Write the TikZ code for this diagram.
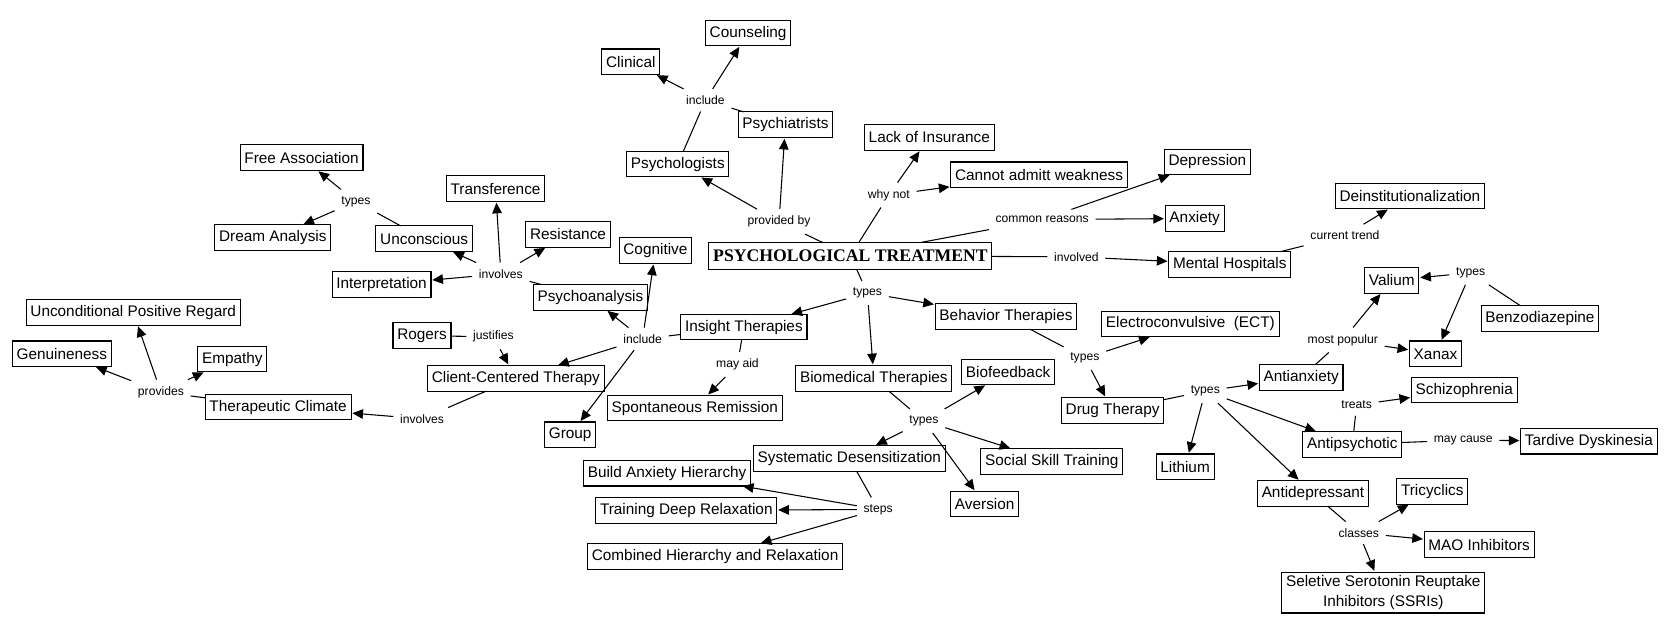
\documentclass[tikz,border=0pt]{standalone}
\usepackage{fontspec}
\setmainfont{Liberation Sans}
\newfontfamily\serifb{Liberation Serif}
\usetikzlibrary{arrows.meta}
\begin{document}
\begin{tikzpicture}[x=0.5pt,y=-0.5pt,
  box/.style={draw, line width=0.5pt, font=\fontsize{7.2}{9.5}\selectfont, inner xsep=2pt, inner ysep=0pt, minimum height=12pt, outer sep=0pt},
  lbl/.style={font=\fontsize{5.7}{6.5}\selectfont, inner sep=3pt},
  ln/.style={line width=0.5pt},
  ar/.style={line width=0.5pt, -{Triangle[length=5pt,width=4.5pt]}, shorten >=0.6pt},
]
\useasboundingbox (0,0) rectangle (1568,596);
% concepts
\node[box] (counsel) at (702,31) {Counseling};
\node[box] (clinical) at (592,58) {Clinical};
\node[box] (psychiat) at (737,117) {Psychiatrists};
\node[box] (psycholog) at (636,154) {Psychologists};
\node[box] (lack) at (872,129) {Lack of Insurance};
\node[box] (cannot) at (975,164) {Cannot admitt weakness};
\node[box] (depr) at (1133,152) {Depression};
\node[box] (anx) at (1121,205) {Anxiety};
\node[box] (deinst) at (1323,184) {Deinstitutionalization};
\node[box] (mental) at (1154,248) {Mental Hospitals};
\node[box, font=\serifb\bfseries\fontsize{8.3}{9}\selectfont, minimum height=12.5pt] (pt) at (798,240) {PSYCHOLOGICAL TREATMENT};
\node[box] (freeassoc) at (283,148) {Free Association};
\node[box] (transf) at (465,177) {Transference};
\node[box] (dream) at (256,223) {Dream Analysis};
\node[box] (uncon) at (398,224) {Unconscious};
\node[box] (resist) at (533,220) {Resistance};
\node[box] (interp) at (358,267) {Interpretation};
\node[box] (cognit) at (615,235) {Cognitive};
\node[box] (psychoan) at (554,279) {Psychoanalysis};
\node[box] (upr) at (125,293) {Unconditional Positive Regard};
\node[box] (genuine) at (58,332) {Genuineness};
\node[box] (empathy) at (218,337) {Empathy};
\node[box] (climate) at (261,382) {Therapeutic Climate};
\node[box] (rogers) at (396,315) {Rogers};
\node[box] (cct) at (484,355) {Client-Centered Therapy};
\node[box] (insight) at (698,307) {Insight Therapies};
\node[box] (spont) at (652,383) {Spontaneous Remission};
\node[box] (group) at (535,408) {Group};
\node[box] (behav) at (944,297) {Behavior Therapies};
\node[box] (biomed) at (820,355) {Biomedical Therapies};
\node[box] (biofeed) at (946,349) {Biofeedback};
\node[box] (sysdes) at (797,430) {Systematic Desensitization};
\node[box] (social) at (987,433) {Social Skill Training};
\node[box] (aversion) at (924,473) {Aversion};
\node[box] (build) at (626,444) {Build Anxiety Hierarchy};
\node[box] (training) at (644,479) {Training Deep Relaxation};
\node[box] (combined) at (671,522) {Combined Hierarchy and Relaxation};
\node[box] (ect) at (1117,304) {Electroconvulsive~ (ECT)};
\node[box] (drug) at (1044,385) {Drug Therapy};
\node[box] (valium) at (1306,263) {Valium};
\node[box] (benzo) at (1445,299) {Benzodiazepine};
\node[box] (xanax) at (1347,332) {Xanax};
\node[box] (antianx) at (1221,354) {Antianxiety};
\node[box] (schizo) at (1374,366) {Schizophrenia};
\node[box] (antipsy) at (1269,417) {Antipsychotic};
\node[box] (tardive) at (1491,414) {Tardive Dyskinesia};
\node[box] (lithium) at (1112,438) {Lithium};
\node[box] (antidep) at (1232,463) {Antidepressant};
\node[box] (tricyc) at (1344,461) {Tricyclics};
\node[box] (mao) at (1388,511) {MAO Inhibitors};
\node[box, align=center, inner ysep=1.5pt] (ssri) at (1298,556) {Seletive Serotonin Reuptake\\Inhibitors (SSRIs)};
% linking phrases
\node[lbl] (lprov) at (731,208) {provided by};
\node[lbl] (linc1) at (662,94) {include};
\node[lbl] (lwhy) at (834,183) {why not};
\node[lbl] (lcommon) at (978,206) {common reasons};
\node[lbl] (linvd) at (1010,241) {involved};
\node[lbl] (ltrend) at (1262,221) {current trend};
\node[lbl] (ltypes) at (814,275) {types};
\node[lbl] (linc2) at (603,318) {include};
\node[lbl] (linv1) at (470,257) {involves};
\node[lbl] (ltypesu) at (334,189) {types};
\node[lbl] (ljust) at (463,316) {justifies};
\node[lbl] (linv2) at (396,393) {involves};
\node[lbl] (lprovides) at (151,368) {provides};
\node[lbl] (lmay) at (692,342) {may aid};
\node[lbl] (ltypesbe) at (1018,336) {types};
\node[lbl] (ltypesbi) at (867,395) {types};
\node[lbl] (lsteps) at (824,478) {steps};
\node[lbl] (ltypesdr) at (1131,367) {types};
\node[lbl] (lmost) at (1260,319) {most populur};
\node[lbl] (ltypesbz) at (1380,256) {types};
\node[lbl] (ltreats) at (1273,380) {treats};
\node[lbl] (lcause) at (1373,413) {may cause};
\node[lbl] (lclasses) at (1275,500) {classes};
% connections
\draw[ln] (pt) -- (lprov);
\draw[ar] (lprov) -- (psycholog);
\draw[ar] (lprov) -- (psychiat);
\draw[ln] (psycholog) -- (linc1);
\draw[ln] (psychiat) -- (linc1);
\draw[ar] (linc1) -- (clinical);
\draw[ar] (linc1) -- (counsel);
\draw[ln] (pt) -- (lwhy);
\draw[ar] (lwhy) -- (lack);
\draw[ar] (lwhy) -- (cannot);
\draw[ln] (pt) -- (lcommon);
\draw[ar] (lcommon) -- (depr);
\draw[ar] (lcommon) -- (anx);
\draw[ln] (pt) -- (linvd);
\draw[ar] (linvd) -- (mental);
\draw[ln] (mental) -- (ltrend);
\draw[ar] (ltrend) -- (deinst);
\draw[ln] (pt) -- (ltypes);
\draw[ar] (ltypes) -- (insight);
\draw[ar] (ltypes) -- (behav);
\draw[ar] (ltypes) -- (biomed);
\draw[ln] (insight) -- (linc2);
\draw[ar] (linc2) -- (psychoan);
\draw[ar] (linc2) -- (cognit);
\draw[ar] (linc2) -- (cct);
\draw[ar] (linc2) -- (group);
\draw[ln] (psychoan) -- (linv1);
\draw[ar] (linv1) -- (transf);
\draw[ar] (linv1) -- (resist);
\draw[ar] (linv1) -- (uncon);
\draw[ar] (linv1) -- (interp);
\draw[ln] (uncon) -- (ltypesu);
\draw[ar] (ltypesu) -- (freeassoc);
\draw[ar] (ltypesu) -- (dream);
\draw[ln] (rogers) -- (ljust);
\draw[ar] (ljust) -- (cct);
\draw[ln] (cct) -- (linv2);
\draw[ar] (linv2) -- (climate);
\draw[ln] (climate) -- (lprovides);
\draw[ar] (lprovides) -- (genuine);
\draw[ar] (lprovides) -- (upr);
\draw[ar] (lprovides) -- (empathy);
\draw[ln] (insight) -- (lmay);
\draw[ar] (lmay) -- (spont);
\draw[ln] (behav) -- (ltypesbe);
\draw[ar] (ltypesbe) -- (ect);
\draw[ar] (ltypesbe) -- (drug);
\draw[ln] (biomed) -- (ltypesbi);
\draw[ar] (ltypesbi) -- (biofeed);
\draw[ar] (ltypesbi) -- (sysdes);
\draw[ar] (ltypesbi) -- (social);
\draw[ar] (ltypesbi) -- (aversion);
\draw[ln] (sysdes) -- (lsteps);
\draw[ar] (lsteps) -- (build);
\draw[ar] (lsteps) -- (training);
\draw[ar] (lsteps) -- (combined);
\draw[ln] (drug) -- (ltypesdr);
\draw[ar] (ltypesdr) -- (antianx);
\draw[ar] (ltypesdr) -- (lithium);
\draw[ar] (ltypesdr) -- (antipsy);
\draw[ar] (ltypesdr) -- (antidep);
\draw[ln] (antianx) -- (lmost);
\draw[ar] (lmost) -- (valium);
\draw[ar] (lmost) -- (xanax);
\draw[ln] (benzo) -- (ltypesbz);
\draw[ar] (ltypesbz) -- (valium);
\draw[ar] (ltypesbz) -- (xanax);
\draw[ln] (antipsy) -- (ltreats);
\draw[ar] (ltreats) -- (schizo);
\draw[ln] (antipsy) -- (lcause);
\draw[ar] (lcause) -- (tardive);
\draw[ln] (antidep) -- (lclasses);
\draw[ar] (lclasses) -- (tricyc);
\draw[ar] (lclasses) -- (mao);
\draw[ar] (lclasses) -- (ssri);
\end{tikzpicture}
\end{document}
